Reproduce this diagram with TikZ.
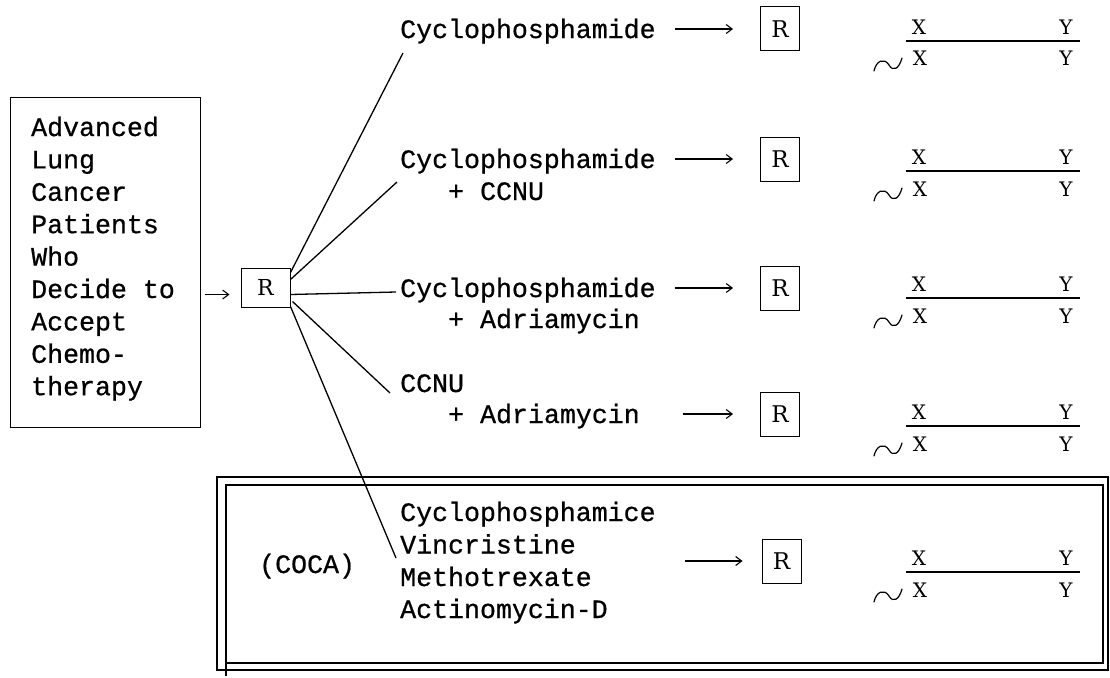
\documentclass[tikz,border=0pt]{standalone}
\usepackage{fontspec}
\newfontfamily\typew[FakeBold=0.7]{Liberation Mono}
\newfontfamily\rserif{DejaVu Serif}
\usetikzlibrary{arrows.meta,calc}
\begin{document}
\begin{tikzpicture}[x=1pt,y=-1pt,
  mono/.style={font=\typew\fontsize{26.6}{32}\selectfont, inner sep=0pt, text height=18pt, text depth=0pt, anchor=base west},
  serifl/.style={font=\rserif\fontsize{20}{20}\selectfont, inner sep=0pt, anchor=base},
  rbox/.style={draw, line width=1pt, font=\rserif\fontsize{23}{23}\selectfont, inner sep=0pt, minimum width=39pt, minimum height=44pt},
  arr/.style={line width=1.1pt, -{Straight Barb[length=6pt,width=9pt,line width=1.1pt]}},
  fan/.style={line width=1.3pt},
  frame/.style={line width=1.2pt},
  tld/.style={line width=1.2pt, line cap=round},
]
\useasboundingbox (0,0) rectangle (1110,677);

% left box
\node[draw, line width=1pt, minimum width=190pt, minimum height=330pt, anchor=north west, inner sep=0pt] (lbox) at (10,97) {};
\foreach \t [count=\i] in {Advanced, Lung, Cancer, Patients, Who, Decide to, Accept, Chemo-, therapy}
  \node[mono] (l\i) at (31,136+32.4*\i-32.4) {\t};

% central R
\node[rbox, font=\rserif\fontsize{22}{22}\selectfont, minimum width=49pt, minimum height=39pt] (r0) at (265.5,287.5) {R};
\coordinate (la) at ($(lbox.east |- r0.west)+(0,7)$);
\draw[arr, shorten <=4pt, shorten >=11pt] (la) -- (r0.west |- la);

% treatments
\node[mono] (t1)  at (400,38)  {Cyclophosphamide};
\node[mono] (t2)  at (400,168) {Cyclophosphamide};
\node[mono] (t2b) at (448,200) {+ CCNU};
\node[mono] (t3)  at (400,297) {Cyclophosphamide};
\node[mono] (t3b) at (448,328) {+ Adriamycin};
\node[mono] (t4)  at (400,392) {CCNU};
\node[mono] (t4b) at (448,423) {+ Adriamycin};
\node[mono] (t5a) at (400,521) {Cyclophosphamice};
\node[mono] (t5b) at (400,553.5) {Vincristine};
\node[mono] (t5c) at (400,586) {Methotrexate};
\node[mono] (t5d) at (400,618) {Actinomycin-D};
\node[mono] (coca) at (259,573) {(COCA)};

% fan lines
\coordinate (e1) at (403,53);
\coordinate (e2) at (397,182);
\coordinate (e3) at (396,292);
\coordinate (e4) at (390,393);
\coordinate (e5) at (396,558);
\draw[fan] ($(r0.east)+(0,-15)$) -- (e1);
\draw[fan] ($(r0.east)+(0,-8)$) -- (e2);
\draw[fan] ($(r0.east)+(0,7)$) -- (e3);
\draw[fan] ($(r0.east)+(2,14)$) -- (e4);
\draw[fan] ($(r0.east)+(0,19)$) -- (e5);

% right R boxes and arrows
\node[rbox] (R1) at (780,0 |- t1.east) {R\hspace{8pt}};
\node[rbox] (R2) at (780,0 |- t2.east) {R\hspace{8pt}};
\node[rbox] (R3) at (780,0 |- t3.east) {R\hspace{8pt}};
\node[rbox] (R4) at (780,0 |- t4b.east) {R\hspace{8pt}};
\node[rbox] (R5) at (781.5,561) {R\hspace{8pt}};
\draw[arr, shorten <=19pt, shorten >=27pt] (t1.east) -- (R1.west);
\draw[arr, shorten <=19pt, shorten >=27pt] (t2.east) -- (R2.west);
\draw[arr, shorten <=19pt, shorten >=27pt] (t3.east) -- (R3.west);
\draw[arr, shorten <=43pt, shorten >=27pt] (t4b.east) -- (R4.west);
\coordinate (a5) at (685,561);
\draw[arr, shorten >=19pt] (a5) -- (R5.west);

% X/Y survival lines
\foreach \ly [count=\i] in {41,171,298,426,572} {
  \node[serifl] (xa\i) at (919,\ly-6.5) {X};
  \node[serifl] (ya\i) at (1066,\ly-6.5) {Y};
  \node[serifl] (xb\i) at (920,\ly+25) {X};
  \node[serifl] (yb\i) at (1066,\ly+25) {Y};
  \coordinate (sa\i) at (906,\ly);
  \coordinate (sb\i) at (1080,\ly);
  \draw[line width=1.5pt] (sa\i) -- (sb\i);
  \draw[tld] (874,\ly+30) .. controls (876,\ly+20) and (884,\ly+16) .. (889,\ly+24) .. controls (893,\ly+31) and (899,\ly+28) .. (902,\ly+17);
}

% COCA double frame
\draw[frame] (217,477) rectangle (1108,670);
\draw[frame] (226,485) rectangle (1103,663);
\draw[frame] (226,663) -- (226,676);
\end{tikzpicture}
\end{document}
